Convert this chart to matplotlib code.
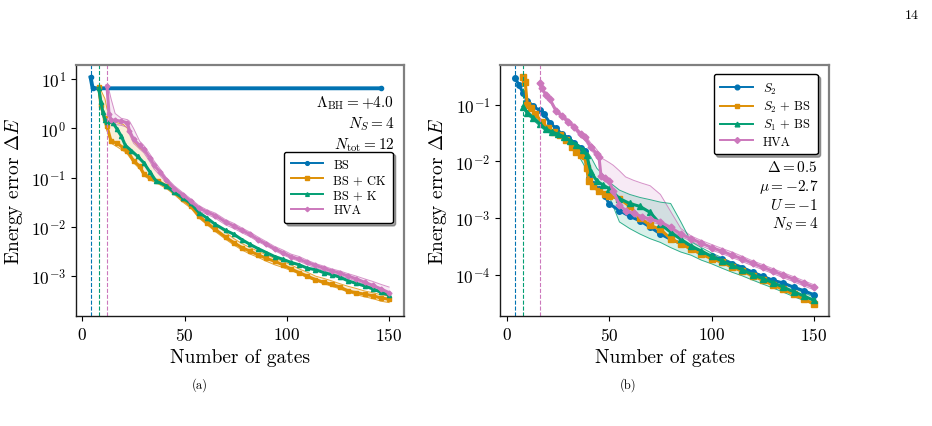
import matplotlib

matplotlib.use("Agg")
import matplotlib.pyplot as plt

plt.rcParams["font.family"] = "serif"
plt.rcParams["font.serif"] = ["cmr10"]
plt.rcParams["mathtext.fontset"] = "cm"
plt.rcParams["axes.formatter.use_mathtext"] = True
plt.rcParams["axes.unicode_minus"] = False

BLUE, ORANGE, GREEN, PINK = "#0173b2", "#de8f05", "#029e73", "#cc78bc"

# ---- panel (a): Bose-Hubbard, Lambda_BH = +4.0 ----
a_bs_gates = [4, 5, 146]
a_bs_err = [10.8, 6.5, 6.5]

a_ck_gates = [8, 9, 11, 12, 14, 17, 20, 22, 25, 28, 30, 33, 37, 41, 45, 49, 53, 57, 61, 65,
              70, 74, 78, 82, 86, 90, 94, 98, 102, 106, 110, 114, 118, 122, 126, 130, 134,
              138, 142, 146, 150]
a_ck_err = [6.9, 3.0, 1.6, 1.1, 0.55, 0.5, 0.4, 0.35, 0.22, 0.17, 0.12, 0.10, 0.085, 0.068,
            0.05, 0.036, 0.027, 0.0166, 0.012, 0.0089, 0.0062, 0.0048, 0.0038, 0.0032, 0.0027,
            0.0023, 0.002, 0.0017, 0.0014, 0.00118, 0.001, 0.00085, 0.00075, 0.00068, 0.0006,
            0.0005, 0.00046, 0.00043, 0.0004, 0.00036, 0.00034]
a_ck_hi = [7.0, 6.0, 4.0, 2.5, 1.5, 1.3, 1.2, 1.0, 0.55, 0.4, 0.35, 0.25, 0.14, 0.09, 0.06,
           0.042, 0.03, 0.02, 0.015, 0.011, 0.0078, 0.0058, 0.0046, 0.0038, 0.0032, 0.0027,
           0.0023, 0.002, 0.0017, 0.0014, 0.0012, 0.001, 0.0009, 0.0008, 0.0007, 0.00062,
           0.00056, 0.0005, 0.00046, 0.00042, 0.00039]
a_ck_lo = [6.8, 2.5, 1.2, 0.9, 0.5, 0.42, 0.35, 0.3, 0.2, 0.15, 0.11, 0.09, 0.075, 0.06, 0.045,
           0.032, 0.024, 0.015, 0.011, 0.008, 0.0056, 0.0043, 0.0034, 0.0028, 0.0024, 0.002,
           0.0017, 0.0015, 0.0013, 0.0011, 0.00093, 0.0008, 0.0007, 0.00062, 0.00055, 0.00047,
           0.00042, 0.00038, 0.00035, 0.00031, 0.00029]

a_k_gates = [8, 9, 10, 11, 12, 15, 17, 19, 21, 24, 27, 30, 33, 36, 41, 45, 49, 53, 57, 61, 65,
             70, 74, 78, 82, 86, 90, 94, 98, 102, 106, 110, 114, 118, 122, 126, 130, 134, 138,
             142, 146, 150]
a_k_err = [6.5, 3.5, 2.1, 1.5, 1.35, 1.3, 0.95, 0.7, 0.45, 0.35, 0.27, 0.2, 0.13, 0.085, 0.068,
           0.05, 0.039, 0.03, 0.0195, 0.015, 0.0112, 0.0085, 0.0071, 0.0055, 0.0044, 0.0036,
           0.003, 0.0025, 0.0022, 0.0019, 0.0017, 0.00145, 0.00135, 0.00118, 0.00107, 0.00095,
           0.0008, 0.00071, 0.00063, 0.00055, 0.00047, 0.00041]

a_hva_gates = [12, 13, 14, 16, 19, 22, 23, 25, 28, 30, 33, 35, 38, 41, 45, 49, 53, 57, 61, 65,
               70, 74, 78, 82, 86, 90, 94, 98, 102, 106, 110, 114, 118, 122, 126, 130, 134,
               138, 142, 146, 150]
a_hva_err = [7.3, 2.0, 1.5, 1.45, 1.4, 1.3, 0.9, 0.6, 0.45, 0.38, 0.25, 0.18, 0.13, 0.09, 0.06,
             0.045, 0.033, 0.024, 0.02, 0.017, 0.0125, 0.0105, 0.0085, 0.007, 0.0055, 0.0045,
             0.0036, 0.003, 0.0025, 0.0022, 0.0019, 0.00165, 0.00145, 0.00127, 0.00115, 0.001,
             0.00088, 0.00075, 0.00065, 0.00055, 0.00046]
a_hva_hi = [7.5, 6.0, 4.0, 2.0, 1.6, 1.5, 1.4, 1.0, 0.55, 0.45, 0.3, 0.22, 0.15, 0.1, 0.068,
            0.05, 0.037, 0.027, 0.022, 0.019, 0.014, 0.0118, 0.0095, 0.0078, 0.0062, 0.005,
            0.004, 0.0034, 0.0028, 0.0025, 0.0021, 0.0018, 0.0016, 0.0014, 0.00127, 0.00112,
            0.001, 0.00088, 0.00078, 0.00068, 0.0006]
a_hva_lo = [7.0, 1.6, 1.3, 1.2, 1.15, 1.05, 0.75, 0.5, 0.38, 0.32, 0.21, 0.15, 0.11, 0.08,
            0.053, 0.04, 0.03, 0.021, 0.018, 0.015, 0.011, 0.0093, 0.0076, 0.0063, 0.005,
            0.0041, 0.0033, 0.0027, 0.0023, 0.002, 0.0017, 0.00148, 0.0013, 0.00115, 0.00103,
            0.0009, 0.00079, 0.00068, 0.00059, 0.0005, 0.00042]

a_start = [4, 8, 12]

# ---- panel (b): Delta = 0.5, mu = -2.7, U = -1 ----
b_s2_gates = [4, 6, 8, 10, 13, 16, 18, 21, 24, 27, 30, 33, 36, 38, 40, 42, 45, 48, 50, 55, 60,
              65, 70, 75, 80, 85, 90, 95, 100, 105, 110, 115, 120, 125, 130, 135, 140, 145, 150]
b_s2_err = [0.30, 0.22, 0.16, 0.118, 0.093, 0.079, 0.069, 0.048, 0.038, 0.030, 0.026, 0.021,
            0.0174, 0.015, 0.005, 0.004, 0.0032, 0.0024, 0.00178, 0.00135, 0.00107, 0.00089,
            0.00069, 0.00052, 0.00042, 0.000355, 0.000295, 0.00024, 0.00021, 0.000186,
            0.000155, 0.000132, 0.00011, 9.3e-5, 7.9e-5, 7.1e-5, 6.0e-5, 5.2e-5, 4.4e-5]

b_s2bs_gates = [8, 9, 10, 12, 14, 17, 20, 23, 26, 29, 32, 34, 36, 38, 39, 40, 42, 45, 48, 50,
                55, 60, 65, 70, 75, 80, 85, 90, 95, 100, 105, 110, 115, 120, 125, 130, 135,
                140, 145, 150]
b_s2bs_err = [0.31, 0.25, 0.10, 0.087, 0.068, 0.050, 0.038, 0.033, 0.029, 0.024, 0.018, 0.0148,
              0.0128, 0.0125, 0.0075, 0.0045, 0.0036, 0.0030, 0.0026, 0.0024, 0.0022, 0.0016,
              0.0010, 0.00074, 0.00063, 0.00043, 0.00035, 0.00028, 0.00023, 0.00019, 0.000165,
              0.000135, 0.000115, 9.5e-5, 8.0e-5, 6.5e-5, 5.5e-5, 4.5e-5, 3.7e-5, 3.0e-5]

b_s1bs_gates = [8, 10, 13, 16, 19, 22, 25, 28, 31, 34, 37, 39, 41, 44, 47, 50, 55, 60, 65, 70,
                75, 80, 85, 90, 95, 100, 105, 110, 115, 120, 125, 130, 135, 140, 145, 150]
b_s1bs_err = [0.092, 0.072, 0.058, 0.046, 0.037, 0.033, 0.030, 0.027, 0.023, 0.0195, 0.016,
              0.013, 0.0065, 0.0045, 0.0038, 0.0033, 0.0022, 0.0018, 0.0016, 0.00125, 0.00078,
              0.00056, 0.00042, 0.00032, 0.00026, 0.00021, 0.000175, 0.000145, 0.000122,
              0.0001, 8.5e-5, 7.2e-5, 6.0e-5, 5.0e-5, 4.2e-5, 3.5e-5]
b_s1bs_hi = [0.1, 0.078, 0.063, 0.05, 0.04, 0.036, 0.033, 0.029, 0.025, 0.021, 0.0175, 0.015,
             0.012, 0.0075, 0.0058, 0.0043, 0.0031, 0.0026, 0.0023, 0.0021, 0.0019, 0.0018,
             0.00085, 0.00038, 0.0003, 0.00024, 0.0002, 0.000165, 0.00014, 0.000115, 9.7e-5,
             8.2e-5, 6.9e-5, 5.8e-5, 4.8e-5, 4.0e-5]
b_s1bs_lo = [0.085, 0.066, 0.053, 0.042, 0.034, 0.03, 0.027, 0.024, 0.02, 0.0145, 0.0095,
             0.007, 0.0048, 0.0035, 0.0028, 0.0024, 0.00085, 0.00065, 0.00052, 0.00043,
             0.00037, 0.0003, 0.00025, 0.00022, 0.00018, 0.000155, 0.00013, 0.00011, 9.5e-5,
             8.0e-5, 6.8e-5, 5.8e-5, 4.9e-5, 4.1e-5, 3.5e-5, 3.0e-5]

b_hva_gates = [16, 17, 19, 21, 24, 27, 30, 33, 36, 38, 41, 44, 45, 46, 48, 50, 52, 55, 58, 62,
               66, 70, 75, 80, 85, 90, 95, 100, 105, 110, 115, 120, 125, 130, 135, 140, 145, 150]
b_hva_err = [0.24, 0.20, 0.15, 0.125, 0.078, 0.063, 0.050, 0.040, 0.030, 0.027, 0.018, 0.0135,
             0.012, 0.0055, 0.0050, 0.0044, 0.0030, 0.0017, 0.00135, 0.0012, 0.00105, 0.00095,
             0.00085, 0.00068, 0.00052, 0.00043, 0.00036, 0.00030, 0.00026, 0.00022, 0.00019,
             0.000158, 0.000135, 0.000115, 9.8e-5, 8.3e-5, 7.0e-5, 6.0e-5]
b_hva_hi = [0.25, 0.21, 0.16, 0.13, 0.085, 0.068, 0.055, 0.044, 0.033, 0.03, 0.021, 0.016,
            0.0126, 0.0115, 0.0105, 0.0095, 0.0085, 0.0068, 0.0053, 0.0046, 0.0041, 0.0037,
            0.0026, 0.0013, 0.00065, 0.00048, 0.0004, 0.00034, 0.00029, 0.00025, 0.00021,
            0.000175, 0.00015, 0.000127, 0.000108, 9.2e-5, 7.8e-5, 6.6e-5]
b_hva_lo = [0.23, 0.19, 0.14, 0.118, 0.073, 0.058, 0.046, 0.037, 0.027, 0.024, 0.016, 0.012,
            0.0105, 0.005, 0.0045, 0.004, 0.0027, 0.0015, 0.0012, 0.00108, 0.00095, 0.00086,
            0.00076, 0.00061, 0.00047, 0.00039, 0.00032, 0.00027, 0.000235, 0.0002, 0.00017,
            0.000143, 0.000122, 0.000104, 8.8e-5, 7.5e-5, 6.3e-5, 5.4e-5]

b_start = [4, 8, 16]


def band(ax, gates, lo, hi, colour):
    ax.fill_between(gates, lo, hi, color=colour, alpha=0.15, linewidth=0)
    ax.plot(gates, lo, color=colour, linewidth=0.7, alpha=0.8)
    ax.plot(gates, hi, color=colour, linewidth=0.7, alpha=0.8)


def style(ax, ylim):
    ax.set_yscale("log")
    ax.set_ylim(*ylim)
    ax.set_xticks([0, 50, 100, 150])
    ax.set_xlabel("Number of gates", fontsize=14)
    ax.set_ylabel(r"Energy error $\Delta E$", fontsize=14)
    ax.tick_params(labelsize=12.5)
    ax.minorticks_off()
    for side in ("left", "bottom"):
        ax.spines[side].set_color("0.1")
        ax.spines[side].set_linewidth(1.0)
    for side in ("top", "right"):
        ax.spines[side].set_color("0.5")
        ax.spines[side].set_linewidth(1.6)


def legend(ax, **kw):
    leg = ax.legend(fontsize=9, shadow=True, edgecolor="black", framealpha=1,
                    handlelength=2.6, borderpad=0.55, labelspacing=0.25, **kw)
    for line in leg.get_lines():
        line.set_linewidth(1.4)
    return leg


fig = plt.figure(figsize=(9.32, 4.27), dpi=100)
ax_a = fig.add_axes([0.0812, 0.2576, 0.3523, 0.5878])
ax_b = fig.add_axes([0.5365, 0.2576, 0.353, 0.5878])

# panel (a)
band(ax_a, a_ck_gates, a_ck_lo, a_ck_hi, ORANGE)
band(ax_a, a_hva_gates, a_hva_lo, a_hva_hi, PINK)
ax_a.plot(a_bs_gates, a_bs_err, color=BLUE, marker="o", ms=3, lw=2.8, label="BS")
ax_a.plot(a_ck_gates, a_ck_err, color=ORANGE, marker="s", ms=3, lw=2.2, label="BS + CK")
ax_a.plot(a_k_gates, a_k_err, color=GREEN, marker="^", ms=3, lw=2.2, label="BS + K")
ax_a.plot(a_hva_gates, a_hva_err, color=PINK, marker="D", ms=2.5, lw=2.2, label="HVA")
for g, c in zip(a_start, [BLUE, GREEN, PINK]):
    ax_a.axvline(g, color=c, linestyle="--", linewidth=0.8)
style(ax_a, (1.55e-4, 19.3))
ax_a.text(0.97, 0.885, r"$\Lambda_{\rm BH}=+4.0$" "\n" r"$N_S=4$" "\n" r"$N_{\rm tot}=12$",
          transform=ax_a.transAxes, ha="right", va="top", fontsize=11, linespacing=1.25)
legend(ax_a, loc="lower right", bbox_to_anchor=(0.985, 0.345), markerscale=0.9)

# panel (b)
band(ax_b, b_hva_gates, b_hva_lo, b_hva_hi, PINK)
band(ax_b, b_s1bs_gates, b_s1bs_lo, b_s1bs_hi, GREEN)
ax_b.plot(b_s2_gates, b_s2_err, color=BLUE, marker="o", ms=4, lw=2.2, label=r"$S_2$")
ax_b.plot(b_s2bs_gates, b_s2bs_err, color=ORANGE, marker="s", ms=4, lw=2.2, label=r"$S_2$ + BS")
ax_b.plot(b_s1bs_gates, b_s1bs_err, color=GREEN, marker="^", ms=4, lw=2.2, label=r"$S_1$ + BS")
ax_b.plot(b_hva_gates, b_hva_err, color=PINK, marker="D", ms=3.5, lw=2.2, label="HVA")
for g, c in zip(b_start, [BLUE, GREEN, PINK]):
    ax_b.axvline(g, color=c, linestyle="--", linewidth=0.8)
style(ax_b, (1.86e-5, 0.5))
ax_b.text(0.967, 0.625, r"$\Delta=0.5$" "\n" r"$\mu=-2.7$" "\n" r"$U=-1$" "\n" r"$N_S=4$",
          transform=ax_b.transAxes, ha="right", va="top", fontsize=11, linespacing=1.2)
legend(ax_b, loc="upper right", bbox_to_anchor=(0.985, 0.99), markerscale=0.85)

fig.text(200 / 932, 1 - 385 / 427, "(a)", ha="center", va="center", fontsize=9)
fig.text(628 / 932, 1 - 385 / 427, "(b)", ha="center", va="center", fontsize=9)
fig.text(912 / 932, 1 - 16 / 427, "14", ha="center", va="center", fontsize=10)

fig.savefig("out.png", dpi=100)
